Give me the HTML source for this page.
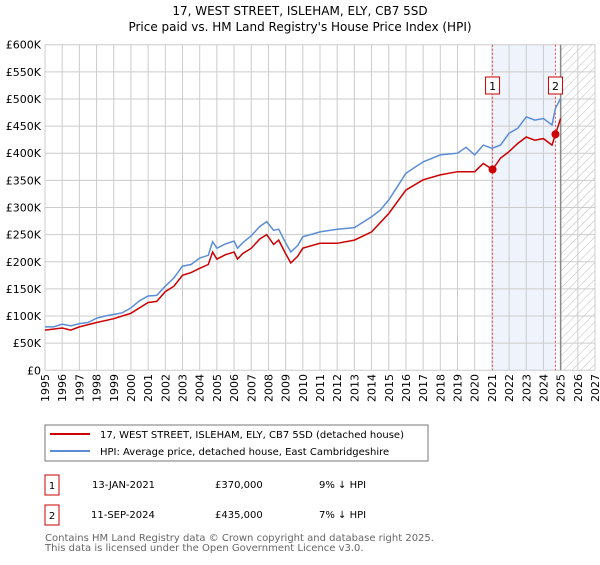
<!DOCTYPE html>
<html><head><meta charset="utf-8"><style>
body{margin:0;background:#fff;font-family:"Liberation Sans","DejaVu Sans",sans-serif;}
svg text{font-family:"DejaVu Sans","Liberation Sans",sans-serif;}
</style></head><body>
<svg id="chart" width="600" height="560" viewBox="0 0 600 560">
<defs><pattern id="hatch" width="6" height="6" patternUnits="userSpaceOnUse" patternTransform="rotate(45)"><line x1="0" y1="0" x2="0" y2="6" stroke="#bbb" stroke-width="1"/></pattern></defs>
<text x="300" y="15" text-anchor="middle" font-size="12">17, WEST STREET, ISLEHAM, ELY, CB7 5SD</text>
<text x="300" y="31" text-anchor="middle" font-size="12">Price paid vs. HM Land Registry's House Price Index (HPI)</text>
<g id="grid"></g><g id="marks"></g><g id="axes"></g>
<rect x="45" y="425" width="383" height="36" fill="#fff" stroke="#777"/>
<line x1="50" y1="434" x2="90" y2="434" stroke="#cc0000" stroke-width="2"/>
<text x="100" y="438" font-size="10">17, WEST STREET, ISLEHAM, ELY, CB7 5SD (detached house)</text>
<line x1="50" y1="451" x2="90" y2="451" stroke="#5b8dd6" stroke-width="2"/>
<text x="100" y="455" font-size="10">HPI: Average price, detached house, East Cambridgeshire</text>
<g>
<rect x="45" y="475" width="14" height="20" fill="none" stroke="#cc0000"/><text x="52" y="489" text-anchor="middle" font-size="10">1</text>
<text x="92" y="488" font-size="10">13-JAN-2021</text><text x="215" y="488" font-size="10">£370,000</text><text x="319" y="488" font-size="10">9% ↓ HPI</text></g>
<g>
<rect x="45" y="505" width="14" height="20" fill="none" stroke="#cc0000"/><text x="52" y="519" text-anchor="middle" font-size="10">2</text>
<text x="91" y="518" font-size="10">11-SEP-2024</text><text x="215" y="518" font-size="10">£435,000</text><text x="319" y="518" font-size="10">7% ↓ HPI</text></g>
<text x="45" y="541" font-size="10" fill="#666">Contains HM Land Registry data © Crown copyright and database right 2025.</text>
<text x="45" y="551" font-size="10" fill="#666">This data is licensed under the Open Government Licence v3.0.</text>
</svg>
<script>
const yTicks=[0,50,100,150,200,250,300,350,400,450,500,550,600];
const yTickLabels=["£0","£50K","£100K","£150K","£200K","£250K","£300K","£350K","£400K","£450K","£500K","£550K","£600K"];
const xYears=[1995,1996,1997,1998,1999,2000,2001,2002,2003,2004,2005,2006,2007,2008,2009,2010,2011,2012,2013,2014,2015,2016,2017,2018,2019,2020,2021,2022,2023,2024,2025,2026,2027];
const hpiDates=[1995,1995.5,1996,1996.5,1997,1997.5,1998,1998.5,1999,1999.5,2000,2000.5,2001,2001.5,2002,2002.5,2003,2003.5,2004,2004.5,2004.75,2005,2005.5,2006,2006.2,2006.5,2007,2007.5,2007.9,2008.3,2008.6,2009,2009.3,2009.7,2010,2011,2012,2013,2014,2014.5,2015,2016,2017,2018,2019,2019.5,2020,2020.5,2021,2021.5,2022,2022.5,2023,2023.5,2024,2024.5,2024.7,2025];
const hpiValues=[80,80,85,82,86,88,96,100,103,106,115,128,137,138,155,170,192,195,207,212,237,225,233,238,225,235,248,265,274,258,260,235,218,230,246,255,260,263,283,295,314,363,384,397,400,411,397,415,409,415,437,446,467,461,464,452,483,501];
const saleDates=[1995,1996,1996.5,1997,1998,1999,2000,2001,2001.5,2002,2002.5,2003,2003.5,2004,2004.5,2004.75,2005,2005.5,2006,2006.2,2006.5,2007,2007.5,2007.9,2008.3,2008.6,2009,2009.3,2009.7,2010,2011,2012,2013,2014,2015,2016,2017,2018,2019,2020,2020.5,2021.04,2021.5,2022,2022.5,2023,2023.5,2024,2024.5,2024.7,2025];
const priceValues=[74,78,74,80,88,95,105,125,127,145,155,175,180,188,195,218,205,213,218,205,215,225,242,250,232,240,215,198,210,225,234,234,240,255,289,332,351,360,366,366,381,370,391,403,418,430,424,427,415,435,464];
const saleYears=[2021.04,2024.7];
const salePrices=[370,435];
const saleLabels=["1","2"];
const X=y=>45+(y-1995)*(550/32);
const Y=v=>370.3-v*(325.6/600);
const NS="http://www.w3.org/2000/svg";
function mk(tag,attrs,parent,txt){const e=document.createElementNS(NS,tag);for(const k in attrs)e.setAttribute(k,attrs[k]);if(txt!==undefined)e.textContent=txt;parent.appendChild(e);return e;}
const grid=document.getElementById('grid'),marks=document.getElementById('marks'),axes=document.getElementById('axes');
// shading & hatch
let sh=mk('rect',{x:X(saleYears[0]),y:Y(600),width:X(saleYears[1])-X(saleYears[0]),height:Y(0)-Y(600),fill:'#eef3fc'},grid);


let ht=mk('rect',{x:X(2025),y:Y(600),width:X(2027)-X(2025),height:Y(0)-Y(600),fill:'url(#hatch)'},grid);


yTicks.forEach((t,i)=>{
  let l=mk('line',{x1:X(1995),x2:X(2027),y1:Y(t),y2:Y(t),stroke:'#ccc'},grid);
  
  
  let tx=mk('text',{x:41,y:Y(t)+4,'text-anchor':'end','font-size':11},axes,yTickLabels[i]);
  
  
});
xYears.forEach(yr=>{
  let l=mk('line',{x1:X(yr),x2:X(yr),y1:Y(600),y2:Y(0),stroke:'#ccc'},grid);
  
  
  let tx=mk('text',{x:0,y:0,'text-anchor':'end','font-size':11,transform:`translate(${X(yr)+4},374) rotate(-90)`},axes,String(yr));
  
  
});
let nl=mk('line',{x1:X(2025),x2:X(2025),y1:Y(600),y2:Y(0),stroke:'#888','stroke-width':1.5},grid);


saleYears.forEach((s,i)=>{
  let l=mk('line',{x1:X(s),x2:X(s),y1:Y(600),y2:Y(0),stroke:'#e05050','stroke-dasharray':'2,2'},grid);
  
  
  let bx=X(s)-8-(i==1?-2:0);
  let r=mk('rect',{x:X(s)-7,y:77,width:14,height:17,fill:'#fff',stroke:'#cc0000'},axes);
  
  
  let t=mk('text',{x:X(s),y:90,'text-anchor':'middle','font-size':11},axes,saleLabels[i]);
  
  
});
const path=(xs,vs)=>xs.map((d,i)=>(i?'L':'M')+X(d).toFixed(1)+','+Y(vs[i]).toFixed(1)).join('');
let hp=mk('path',{d:path(hpiDates,hpiValues),fill:'none',stroke:'#5b8dd6','stroke-width':1.5},marks);


let pp=mk('path',{d:path(saleDates,priceValues),fill:'none',stroke:'#cc0000','stroke-width':1.5},marks);


saleYears.forEach((s,i)=>{
  let c=mk('circle',{cx:X(s),cy:Y(salePrices[i]),r:4,fill:'#cc0000'},marks);
  
  
});
</script>
</body></html>
